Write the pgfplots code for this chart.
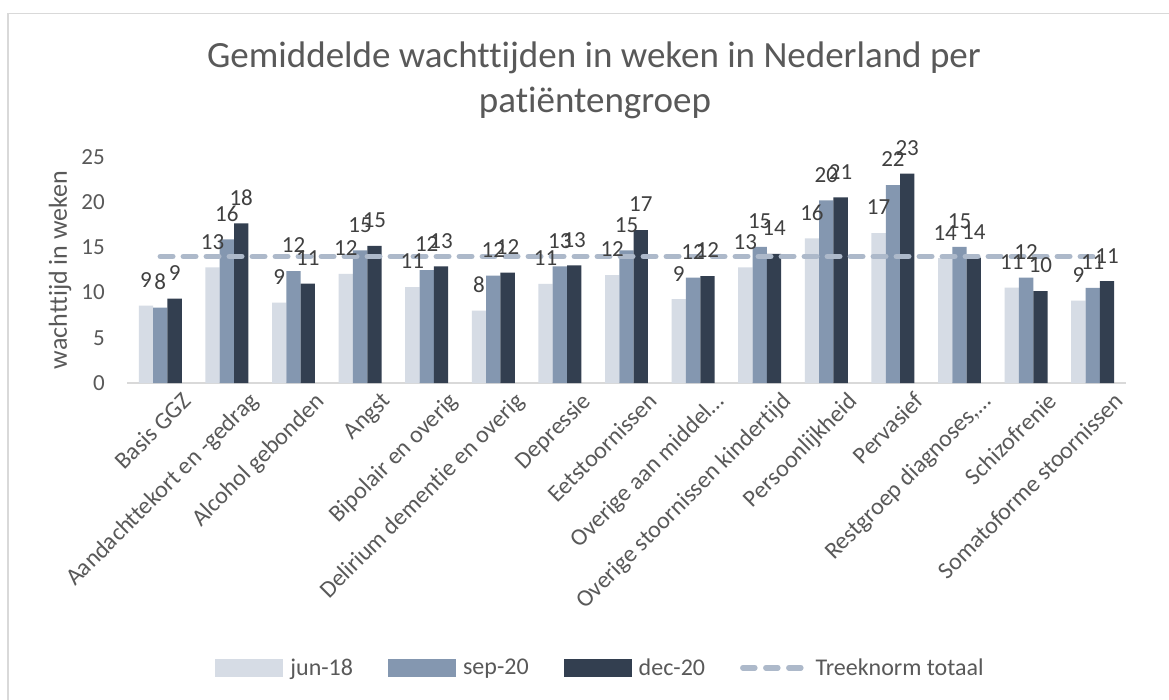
\documentclass[border=0pt]{standalone}
\usepackage{fontspec}
\setmainfont{Carlito}[Ligatures=NoCommon]
\usepackage{pgfplots}
\pgfplotsset{compat=1.18}
\definecolor{cjun}{HTML}{D6DCE5}
\definecolor{csep}{HTML}{8497B0}
\definecolor{cdec}{HTML}{333F50}
\definecolor{ctree}{HTML}{ADB9CA}
\definecolor{ctxt}{HTML}{595959}
\definecolor{clbl}{HTML}{404040}
\definecolor{cgrid}{HTML}{D9D9D9}
\begin{document}
\begin{tikzpicture}[x=1pt,y=1pt]
\useasboundingbox (0,0) rectangle (1169,699);
\fill[white] (0,0) rectangle (1169,699);
\draw[cgrid, line width=1.5pt] (7.8,-10) -- (7.8,685.5) -- (1200,685.5);
\node[font=\fontsize{37}{37}\selectfont, text=ctxt, anchor=base] at (594,631) {Gemiddelde wachttijden in weken in Nederland per};
\node[font=\fontsize{37}{37}\selectfont, text=ctxt, anchor=base] at (595,586) {patiëntengroep};
\begin{axis}[
  at={(127pt,316pt)}, anchor=south west,
  scale only axis, width=999pt, height=226pt,
  xmin=-0.5, xmax=14.5, ymin=0, ymax=25,
  enlarge x limits=false, enlarge y limits=false,
  clip=false,
  /pgf/number format/assume math mode=true,
  ybar,
  bar width=0.215,
  axis x line*=bottom, axis y line*=left,
  x axis line style={draw=cgrid, line width=1.5pt},
  y axis line style={draw=none},
  major tick length=0pt,
  xtick style={draw=none}, ytick style={draw=none},
  ytick={0,5,10,15,20,25},
  yticklabel style={font=\fontsize{23}{23}\selectfont, text=ctxt, inner sep=0pt, xshift=-22pt},
  xtick={0,...,14},
  xticklabels={Basis GGZ, Aandachttekort en -gedrag, Alcohol gebonden, Angst, Bipolair en overig, Delirium dementie en overig, Depressie, Eetstoornissen, Overige aan middel…, Overige stoornissen kindertijd, Persoonlijkheid, Pervasief, {Restgroep diagnoses,…}, Schizofrenie, Somatoforme stoornissen},
  xticklabel style={font=\fontsize{24}{24}\selectfont, text=ctxt, inner sep=0pt, rotate=45, anchor=north east, xshift=9pt, yshift=-20pt},
  ylabel={wachttijd in weken},
  every axis y label/.style={at={(axis description cs:-0.0601,0.5)}, rotate=90, anchor=base, font=\fontsize{26}{26}\selectfont, text=ctxt},
  every node near coord/.append style={font=\fontsize{23}{23}\selectfont, text=clbl, inner sep=0pt, anchor=south, yshift=18pt},
  legend style={at={(axis description cs:0.474,-1.26)}, anchor=center, draw=none, fill=none,
    legend columns=4, font=\fontsize{24}{24}\selectfont, text=ctxt,
    /tikz/every odd column/.append style={column sep=5pt},
    /tikz/every even column/.append style={column sep=33pt}},
]
\addplot[draw=none, fill=cjun, bar shift=-0.215,
  nodes near coords={\pgfmathprintnumber[fixed,precision=0]{\pgfplotspointmeta}},
  legend image code/.code={\fill[cjun] (0pt,-9pt) rectangle (68pt,9pt);}]
  coordinates {(0,8.57) (1,12.78) (2,8.90) (3,12.08) (4,10.6) (5,8.01) (6,10.97) (7,11.93) (8,9.27) (9,12.78) (10,15.99) (11,16.58) (12,13.8) (13,10.56) (14,9.12)};
\addlegendentry{jun-18}
\addplot[draw=none, fill=csep, bar shift=0,
  nodes near coords={\pgfmathprintnumber[fixed,precision=0]{\pgfplotspointmeta}},
  legend image code/.code={\fill[csep] (0pt,-9pt) rectangle (68pt,9pt);}]
  coordinates {(0,8.35) (1,15.88) (2,12.37) (3,14.66) (4,12.48) (5,11.89) (6,12.89) (7,14.66) (8,11.67) (9,15.07) (10,20.2) (11,21.9) (12,15.07) (13,11.67) (14,10.52)};
\addlegendentry{sep-20}
\addplot[draw=none, fill=cdec, bar shift=0.215,
  nodes near coords={\pgfmathprintnumber[fixed,precision=0]{\pgfplotspointmeta}},
  legend image code/.code={\fill[cdec] (0pt,-9pt) rectangle (68pt,9pt);}]
  coordinates {(0,9.34) (1,17.65) (2,11.0) (3,15.18) (4,12.89) (5,12.22) (6,13.0) (7,16.91) (8,11.82) (9,14.29) (10,20.53) (11,23.15) (12,13.88) (13,10.16) (14,11.26)};
\addlegendentry{dec-20}
\addplot[sharp plot, mark=none, ctree, line width=5.5pt, dash pattern=on 12.5pt off 10.5pt, line cap=round,
  legend image code/.code={\draw[ctree, line width=5.5pt, dash pattern=on 12pt off 11pt, line cap=round] (3pt,0pt) -- (66pt,0pt);}]
  coordinates {(0,14) (14,14)};
\addlegendentry{Treeknorm totaal}
\end{axis}
\end{tikzpicture}
\end{document}
